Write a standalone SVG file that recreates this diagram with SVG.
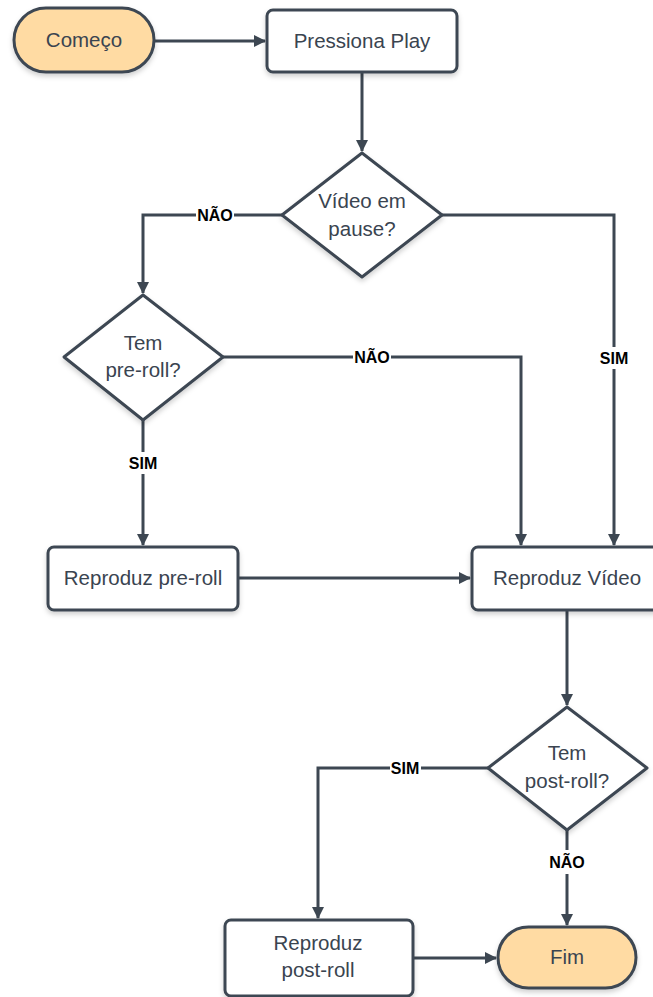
<svg xmlns="http://www.w3.org/2000/svg" width="653" height="997" viewBox="0 0 653 997">
<defs>
<filter id="sh" x="-20%" y="-20%" width="140%" height="150%">
<feDropShadow dx="0" dy="3" stdDeviation="2.5" flood-color="#000" flood-opacity="0.18"/>
</filter>
<marker id="ah" markerWidth="12" markerHeight="12" viewBox="0 0 12 12" refX="11" refY="6" orient="auto" markerUnits="userSpaceOnUse">
<path d="M0,0 L12,6 L0,12 Z" fill="#3d4752"/>
</marker>
</defs>
<style>
.n{fill:#fff;stroke:#3d4752;stroke-width:3;stroke-linejoin:round;filter:url(#sh)}
.t{fill:#ffdba3}
.c{fill:none;stroke:#3d4752;stroke-width:3}
.a{marker-end:url(#ah)}
text{font-family:"Liberation Sans",Arial,sans-serif}
.l{font-size:20.5px;fill:#3a4450;text-anchor:middle;dominant-baseline:central}
.b{font-size:16px;font-weight:bold;fill:#000;text-anchor:middle;dominant-baseline:central}
.bg{fill:#fff}
</style>
<rect width="653" height="997" fill="#fff"/>
<g id="connectors">
<path class="c a" d="M154,41 L265,41"/>
<path class="c a" d="M362,72 L362,151"/>
<path class="c a" d="M282,215 L143,215 L143,293"/>
<path class="c a" d="M442,215 L614,215 L614,545"/>
<path class="c a" d="M223,357 L521,357 L521,545"/>
<path class="c a" d="M143,420 L143,545"/>
<path class="c a" d="M238,578 L470,578"/>
<path class="c a" d="M567,610 L567,705"/>
<path class="c a" d="M488,768 L318,768 L318,918"/>
<path class="c a" d="M567,830 L567,925"/>
<path class="c a" d="M413,958 L496,958"/>
<rect class="bg" x="196" y="205" width="38" height="20"/>
<text class="b" x="215" y="215">NÃO</text>
<rect class="bg" x="353" y="347" width="38" height="20"/>
<text class="b" x="372" y="357">NÃO</text>
<rect class="bg" x="599" y="347" width="31" height="22"/>
<text class="b" x="614" y="358">SIM</text>
<rect class="bg" x="128" y="452" width="31" height="22"/>
<text class="b" x="143" y="463">SIM</text>
<rect class="bg" x="390" y="758" width="31" height="20"/>
<text class="b" x="405" y="768">SIM</text>
<rect class="bg" x="547" y="850" width="40" height="24"/>
<text class="b" x="567" y="862">NÃO</text>
</g>
<g id="comeco">
<rect class="n t" x="14" y="8" width="140" height="64" rx="32"/>
<text class="l" x="84" y="39">Começo</text>
</g>
<g id="pressiona">
<rect class="n" x="267" y="10" width="190" height="62" rx="6"/>
<text class="l" x="362" y="40">Pressiona Play</text>
</g>
<g id="pause">
<path class="n" d="M362,153 L442,215 L362,277 L282,215 Z"/>
<text class="l" x="362" y="200">Vídeo em</text>
<text class="l" x="362" y="228">pause?</text>
</g>
<g id="preroll-q">
<path class="n" d="M143,295 L223,357 L143,420 L64,357 Z"/>
<text class="l" x="143" y="342">Tem</text>
<text class="l" x="143" y="369">pre-roll?</text>
</g>
<g id="preroll">
<rect class="n" x="48" y="547" width="190" height="63" rx="6"/>
<text class="l" x="143" y="577">Reproduz pre-roll</text>
</g>
<g id="video">
<rect class="n" x="472" y="547" width="190" height="63" rx="6"/>
<text class="l" x="567" y="577">Reproduz Vídeo</text>
</g>
<g id="postroll-q">
<path class="n" d="M567,707 L647,768 L567,830 L488,768 Z"/>
<text class="l" x="567" y="752">Tem</text>
<text class="l" x="567" y="780">post-roll?</text>
</g>
<g id="postroll">
<rect class="n" x="225" y="920" width="188" height="76" rx="6"/>
<text class="l" x="318" y="942">Reproduz</text>
<text class="l" x="318" y="969">post-roll</text>
</g>
<g id="fim">
<rect class="n t" x="498" y="927" width="138" height="61" rx="30.5"/>
<text class="l" x="567" y="956">Fim</text>
</g>
</svg>
